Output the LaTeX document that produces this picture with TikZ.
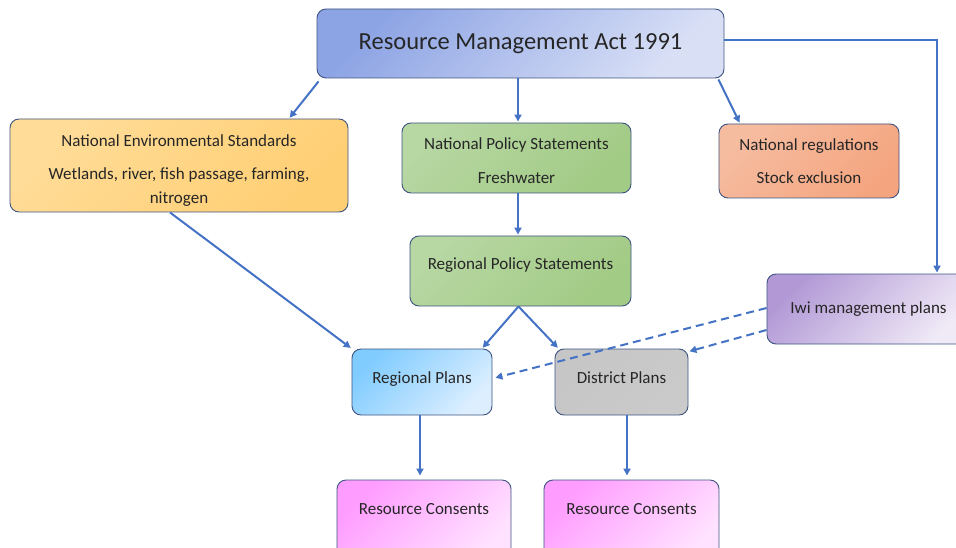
\documentclass[tikz,border=0pt]{standalone}
\usepackage{fontspec}
\setmainfont{Carlito}
\usetikzlibrary{arrows.meta}
\definecolor{linec}{HTML}{4472C4}
\definecolor{bordc}{HTML}{3F5480}
\definecolor{txt}{HTML}{262626}
\definecolor{rmaA}{HTML}{8CA3E4}\definecolor{rmaB}{HTML}{D9E0F6}
\definecolor{nesA}{HTML}{FFDC98}\definecolor{nesB}{HTML}{FFCF74}
\definecolor{grnA}{HTML}{B7D7A3}\definecolor{grnB}{HTML}{A2CB85}
\definecolor{nrA}{HTML}{F6BCA0}\definecolor{nrB}{HTML}{F4A57F}
\definecolor{iwiA}{HTML}{B299D6}\definecolor{iwiB}{HTML}{F0EAF7}
\definecolor{regA}{HTML}{80CCFF}\definecolor{regB}{HTML}{DDEFFF}
\definecolor{disA}{HTML}{C6C6C6}\definecolor{disB}{HTML}{CACACA}
\definecolor{rcA}{HTML}{FF9CFF}\definecolor{rcB}{HTML}{FFE2FF}
\tikzset{
  box/.style={draw=bordc, rounded corners=9pt, line width=0.9pt, align=center,
    font=\fontsize{17}{24}\selectfont, text=txt, inner sep=2pt},
  grad/.style 2 args={left color=#1, right color=#2, shading angle=45},
  arr/.style={draw=linec, line width=2pt, -{Triangle[length=7pt,width=7pt]}, shorten >=1pt},
  dsh/.style={arr, dash pattern=on 8pt off 5pt}
}
\begin{document}
\begin{tikzpicture}[x=1pt,y=-1pt]
\useasboundingbox (0,0) rectangle (956,548);
\node[box, grad={rmaA}{rmaB}, minimum width=407, minimum height=69,
  font=\fontsize{24.5}{28}\selectfont] (rma) at (520.5,43.5) {Resource Management Act 1991};
\node[box, grad={nesA}{nesB}, minimum width=338, minimum height=93] (nes) at (179,165.5)
  {\rule{0pt}{22pt}National Environmental Standards\\[9pt]Wetlands, river, fish passage, farming,\\nitrogen};
\node[box, grad={grnA}{grnB}, minimum width=229, minimum height=70] (nps) at (516.5,158)
  {\rule{0pt}{18pt}National Policy Statements\\[10pt]Freshwater};
\node[box, grad={nrA}{nrB}, minimum width=180, minimum height=74] (nr) at (809,161)
  {National regulations\\[9pt]Stock exclusion};
\node[box, grad={grnA}{grnB}, minimum width=221, minimum height=70, text depth=14pt] (rps) at (520.5,271)
  {Regional Policy Statements};
\node[box, grad={iwiA}{iwiB}, minimum width=203, minimum height=70] (iwi) at (868.5,309)
  {Iwi management plans};
\node[box, grad={regA}{regB}, minimum width=140, minimum height=66, text depth=8pt] (reg) at (422,382)
  {Regional Plans};
\node[box, grad={disA}{disB}, minimum width=133, minimum height=66, text depth=8pt] (dist) at (621.5,382)
  {District Plans};
\node[box, grad={rcA}{rcB}, minimum width=174, minimum height=80, text depth=22pt] (rc1) at (424,520)
  {Resource Consents};
\node[box, grad={rcA}{rcB}, minimum width=175, minimum height=80, text depth=22pt] (rc2) at (631.5,520)
  {Resource Consents};
% connectors
\draw[arr] ([xshift=2pt,yshift=-3pt]rma.south west) -- ([xshift=110]nes.north);
\draw[arr] ([xshift=-2.5]rma.south) -- ([xshift=1.5]nps.north);
\draw[arr] ([xshift=-6pt,yshift=-1pt]rma.south east) -- ([xshift=-69]nr.north);
\draw[arr] ([yshift=3.5pt]rma.east) -| ([xshift=68.5]iwi.north);
\draw[arr] ([xshift=-9]nes.south) -- (reg.north west);
\draw[arr] ([xshift=1.5]nps.south) -- ([xshift=-2.5]rps.north);
\draw[arr] ([xshift=-2]rps.south) -- ([xshift=60]reg.north);
\draw[arr] ([xshift=-2]rps.south) -- ([xshift=-63]dist.north);
\draw[dsh] ([yshift=1pt]iwi.west) -- ([xshift=2pt,yshift=4pt]reg.east);
\draw[dsh] ([yshift=-21pt]iwi.west) -- ([yshift=-3pt]dist.north east);
\draw[arr, shorten >=4pt] ([xshift=-2]reg.south) -- ([xshift=-2]reg.south |- rc1.north);
\draw[arr, shorten >=4pt] ([xshift=5.5]dist.south) -- ([xshift=5.5]dist.south |- rc2.north);
\end{tikzpicture}
\end{document}
